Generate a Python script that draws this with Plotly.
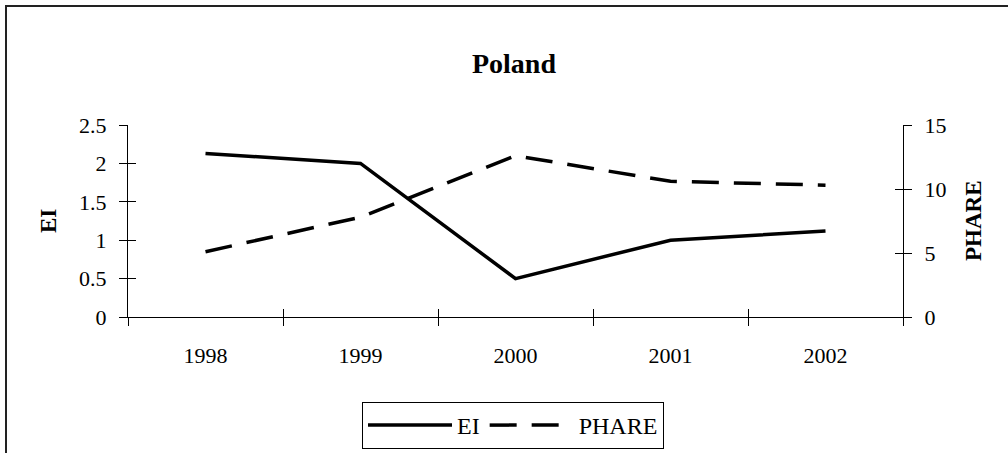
import plotly.graph_objects as go

years = ["1998", "1999", "2000", "2001", "2002"]
ei = [2.13, 2.0, 0.5, 1.0, 1.12]
phare = [5.1, 7.8, 12.6, 10.6, 10.3]

FONT = "Liberation Serif, Times New Roman, serif"
TICK = dict(family=FONT, size=22, color="black")

fig = go.Figure()
fig.add_trace(go.Scatter(x=years, y=ei, name="EI", mode="lines",
                         line=dict(color="black", width=3.5), yaxis="y"))
fig.add_trace(go.Scatter(x=years, y=phare, name="PHARE", mode="lines",
                         line=dict(color="black", width=3.5, dash="27px,15px"), yaxis="y2"))

axis_common = dict(showgrid=False, zeroline=False, showline=True, linecolor="black",
                   linewidth=1, ticks="outside", ticklen=8, tickcolor="black", tickwidth=1,
                   tickfont=TICK, automargin=False)
inner = dict(showline=False, showgrid=False, zeroline=False, ticks="inside", ticklen=8,
             tickcolor="black", tickwidth=1, showticklabels=False, automargin=False)

fig.update_layout(
    width=1008, height=453,
    margin=dict(l=128, r=105, t=125, b=136, autoexpand=False),
    paper_bgcolor="white", plot_bgcolor="white",
    font=dict(family=FONT, color="black"),
    title=dict(text="<b>Poland</b>", x=514 / 1008, xanchor="center", xref="container",
               y=1 - 63 / 453, yanchor="middle", yref="container",
               font=dict(family=FONT, size=28, color="black")),
    xaxis=dict(type="category", tickson="boundaries", range=[-0.5, 4.5],
               ticklabelstandoff=19, **axis_common),
    yaxis=dict(range=[0, 2.5], dtick=0.5, ticklabelstandoff=8, **axis_common),
    yaxis2=dict(range=[0, 15], dtick=5, overlaying="y", side="right", ticklabelstandoff=8,
                **axis_common),
    yaxis3=dict(range=[0, 2.5], dtick=0.5, overlaying="y", side="left", **inner),
    yaxis4=dict(range=[0, 15], dtick=5, overlaying="y", side="right", **inner),
    xaxis2=dict(type="category", tickson="boundaries", range=[-0.5, 4.5], overlaying="x",
                **inner),
    legend=dict(orientation="h", x=(513 - 128) / 775, xanchor="center",
                y=(317 - 402) / 192, yanchor="top",
                bordercolor="black", borderwidth=1, itemwidth=84,
                font=dict(family=FONT, size=24, color="black")),
    showlegend=True,
)
fig.add_trace(go.Scatter(x=years, y=ei, xaxis="x2", yaxis="y3", mode="lines",
                         line=dict(width=0), showlegend=False, hoverinfo="skip", opacity=0))
fig.add_trace(go.Scatter(x=years, y=phare, xaxis="x", yaxis="y4", mode="lines",
                         line=dict(width=0), showlegend=False, hoverinfo="skip", opacity=0))

# axis titles
fig.add_annotation(text="<b>EI</b>", xref="paper", yref="paper", x=(48 - 128) / 775, y=0.5,
                   xanchor="center", yanchor="middle", textangle=-90, showarrow=False,
                   font=dict(family=FONT, size=23, color="black"))
fig.add_annotation(text="<b>PHARE</b>", xref="paper", yref="paper", x=(973 - 128) / 775, y=0.5,
                   xanchor="center", yanchor="middle", textangle=-90, showarrow=False,
                   font=dict(family=FONT, size=23, color="black"))

# outer chart border
fig.add_shape(type="rect", xref="paper", yref="paper",
              x0=(6 - 128) / 775, x1=1.3, y0=-0.9, y1=(317 - 6) / 192,
              line=dict(color="#222222", width=2), fillcolor="rgba(0,0,0,0)", layer="below")

fig.write_html("out.html", config={"displayModeBar": False},
               post_script="document.body.style.margin='0px';document.body.style.overflow='hidden';")
